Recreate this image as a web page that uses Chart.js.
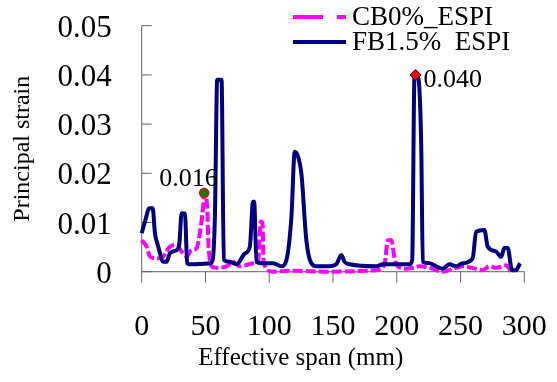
<!DOCTYPE html>
<html>
<head>
<meta charset="utf-8">
<script src="https://cdn.jsdelivr.net/npm/chart.js@4"></script>
<style>
  html, body { margin: 0; padding: 0; background: #fff; }
  #wrap { width: 557px; height: 382px; position: relative; }
</style>
</head>
<body>
<div id="wrap"><canvas id="strainChart"></canvas></div>
<script>
// values
const cbSpan = [0, 3.9, 6.5, 11.7, 16.9, 22.2, 27.4, 31.3, 35.2, 39.1, 43, 45.6, 48.2, 49, 51.4, 52.2,
  54.8, 58.7, 66.5, 71.7, 76.9, 87.3, 91.3, 93.4, 94.7, 95.7, 103, 116, 147.4, 183.9, 190.4, 193,
  195.7, 198.3, 200.9, 207.4, 212.6, 217.8, 225.6, 236, 246.5, 251.7, 262.2, 267.4, 272.6, 277.9,
  285.7, 289.6];
const cbStrain = [0.0064, 0.0051, 0.0031, 0.0027, 0.0031, 0.0051, 0.0054, 0.0041, 0.0031, 0.0044,
  0.0048, 0.0078, 0.0132, 0.016, 0.013, 0.0064, 0.0011, 0.0008, 0.0011, 0.002, 0.0011, 0.0017,
  0.0024, 0.0102, 0.0098, 0.0017, 0, 0.0002, 0, 0.0003, 0.0015, 0.0064, 0.0064, 0.0027, 0.0011,
  0.0006, 0.0008, 0.0011, 0.0008, 0, 0.0008, 0.0011, 0.0006, 0.0003, 0.0011, 0.0008, 0.0013, 0];

const fbSpan = [0, 2.6, 6, 8.6, 10.4, 13, 16.9, 19.6, 22, 27.4, 29.4, 31.3, 33.9, 35.7, 37.5, 53.5,
  55.6, 57.4, 59.2, 62.6, 64.4, 69.1, 74.3, 80.9, 84.8, 87.3, 88.2, 90, 95, 103, 109.6, 113.5, 117.4,
  120, 122.6, 125.2, 129.1, 133, 137, 147.4, 152.6, 156.5, 159.1, 163, 183.9, 189.1, 210, 212.1,
  213.9, 216.5, 219.2, 220.4, 225.6, 230.9, 236, 241.3, 246.5, 251.7, 259.5, 262.2, 268.7, 271.3,
  277.9, 281.8, 284.4, 287, 290.4, 293.5, 296.6];
const fbStrain = [0.0078, 0.0102, 0.0129, 0.0129, 0.0078, 0.0051, 0.002, 0.002, 0.0037, 0.0044,
  0.0054, 0.0119, 0.0118, 0.0017, 0.0015, 0.0017, 0.0024, 0.0112, 0.039, 0.039, 0.0024, 0.002,
  0.0015, 0.0037, 0.0051, 0.0142, 0.0142, 0.002, 0.0017, 0.0017, 0.0011, 0.0024, 0.0112, 0.0244,
  0.0234, 0.02, 0.0064, 0.0017, 0.0011, 0.0011, 0.0015, 0.0034, 0.002, 0.0015, 0.0011, 0.0015,
  0.0015, 0.0024, 0.0396, 0.0396, 0.0254, 0.002, 0.0017, 0.0011, 0.0006, 0.0015, 0.0011, 0.0017,
  0.0027, 0.0081, 0.0085, 0.0051, 0.0041, 0.003, 0.0048, 0.0048, 0.0003, 0.0003, 0.0017];

const cbPeak = { x: 49, y: 0.016, label: "0.016" };
const fbPeak = { x: 214.7, y: 0.040, label: "0.040" };

const xTicks = ["0", "50", "100", "150", "200", "250", "300"];
const yTicks = ["0", "0.01", "0.02", "0.03", "0.04", "0.05"];

const SERIF = "'Liberation Serif', 'Times New Roman', serif";

function toPoints(xs, ys) {
  return xs.map((x, i) => ({ x: x, y: ys[i] }));
}

// axis lines + tick marks (x ticks point down, y ticks point into the plot)
const axesPlugin = {
  id: "axesPlugin",
  beforeDatasetsDraw(chart) {
    const ctx = chart.ctx;
    const xs = chart.scales.x;
    const ys = chart.scales.y;
    const a = chart.chartArea;
    ctx.save();
    ctx.strokeStyle = "#666";
    ctx.lineWidth = 1;
    ctx.beginPath();
    ctx.moveTo(a.left, a.top);
    ctx.lineTo(a.left, a.bottom);
    ctx.lineTo(a.right, a.bottom);
    xs.ticks.forEach((t) => {
      const px = xs.getPixelForValue(t.value);
      ctx.moveTo(px, a.bottom);
      ctx.lineTo(px, a.bottom + 11);
    });
    ys.ticks.forEach((t) => {
      const py = ys.getPixelForValue(t.value);
      ctx.moveTo(a.left, py);
      ctx.lineTo(a.left + 10, py);
    });
    ctx.stroke();
    ctx.restore();
  },
};

// legend at top right, peak labels, x-axis title
const textPlugin = {
  id: "textPlugin",
  afterDraw(chart) {
    const ctx = chart.ctx;
    const a = chart.chartArea;
    ctx.save();

    // legend
    const rows = [chart.data.datasets[0], chart.data.datasets[1]];
    const rowY = [17, 42];
    rows.forEach((ds, i) => {
      ctx.strokeStyle = ds.borderColor;
      ctx.lineWidth = 4;
      ctx.setLineDash(i === 0 ? [30, 14] : []);
      ctx.beginPath();
      ctx.moveTo(293, rowY[i]);
      ctx.lineTo(346, rowY[i]);
      ctx.stroke();
      ctx.setLineDash([]);
      ctx.fillStyle = "#000";
      ctx.font = "27px " + SERIF;
      ctx.textBaseline = "middle";
      ctx.textAlign = "left";
      ctx.fillText(ds.label, 352, rowY[i] + 1);
    });

    // peak labels
    const m1 = chart.getDatasetMeta(2).data[0];
    const m2 = chart.getDatasetMeta(3).data[0];
    ctx.font = "26px " + SERIF;
    ctx.fillStyle = "#000";
    ctx.textBaseline = "middle";
    ctx.textAlign = "left";
    ctx.fillText(cbPeak.label, m1.x - 45, m1.y - 14);
    ctx.fillText(fbPeak.label, m2.x + 8, m2.y + 5);

    // x axis title
    ctx.font = "25px " + SERIF;
    ctx.textAlign = "center";
    ctx.textBaseline = "alphabetic";
    ctx.fillText("Effective span (mm)", a.left + 159, 365);
    ctx.restore();
  },
};

const ctx = document.getElementById("strainChart");
new Chart(ctx, {
  type: "line",
  data: {
    datasets: [
      {
        label: "CB0%_ESPI",
        data: toPoints(cbSpan, cbStrain),
        borderColor: "#ff00ff",
        borderWidth: 4,
        borderDash: [10, 3],
        pointRadius: 0,
        cubicInterpolationMode: "monotone",
        order: 2,
      },
      {
        label: "FB1.5%  ESPI",
        data: toPoints(fbSpan, fbStrain),
        borderColor: "#000080",
        borderWidth: 4,
        pointRadius: 0,
        cubicInterpolationMode: "monotone",
        order: 1,
      },
      {
        label: "cb peak",
        data: [{ x: cbPeak.x, y: cbPeak.y }],
        showLine: false,
        pointStyle: "circle",
        pointRadius: 4.5,
        pointBackgroundColor: "#008000",
        pointBorderColor: "#ff0000",
        pointBorderWidth: 1.5,
        order: 0,
      },
      {
        label: "fb peak",
        data: [{ x: fbPeak.x, y: fbPeak.y }],
        showLine: false,
        pointStyle: "rectRot",
        pointRadius: 5.5,
        pointBackgroundColor: "#ff0000",
        pointBorderColor: "#400000",
        pointBorderWidth: 1,
        order: 0,
      },
    ],
  },
  options: {
    responsive: true,
    maintainAspectRatio: false,
    animation: false,
    devicePixelRatio: 1,
    clip: false,
    layout: { padding: { left: 0, right: 32.7, top: 25.7, bottom: 0 } },
    plugins: {
      legend: { display: false },
      tooltip: { enabled: false },
    },
    scales: {
      x: {
        type: "linear",
        min: 0,
        max: 300,
        grid: { display: false, drawTicks: false },
        border: { display: false },
        ticks: {
          stepSize: 50,
          padding: 37,
          color: "#000",
          font: { family: SERIF, size: 30 },
          maxRotation: 0,
          callback: (v) => xTicks[Math.round(v / 50)],
        },
        afterFit: (s) => {
          s.height = 110.3;
          s.paddingLeft = 0;
          s.paddingRight = 0;
        },
      },
      y: {
        min: 0,
        max: 0.05,
        grid: { display: false, drawTicks: false },
        border: { display: false },
        ticks: {
          stepSize: 0.01,
          padding: 30,
          labelOffset: 3,
          color: "#000",
          font: { family: SERIF, size: 31 },
          callback: (v) => yTicks[Math.round(v / 0.01)],
        },
        title: {
          display: true,
          text: "Principal strain",
          color: "#000",
          font: { family: SERIF, size: 24 },
          padding: { top: 8, bottom: 0 },
        },
        afterFit: (s) => {
          s.width = 141.7;
          s.paddingTop = 0;
          s.paddingBottom = 0;
        },
      },
    },
  },
  plugins: [axesPlugin, textPlugin],
});
</script>
</body>
</html>
